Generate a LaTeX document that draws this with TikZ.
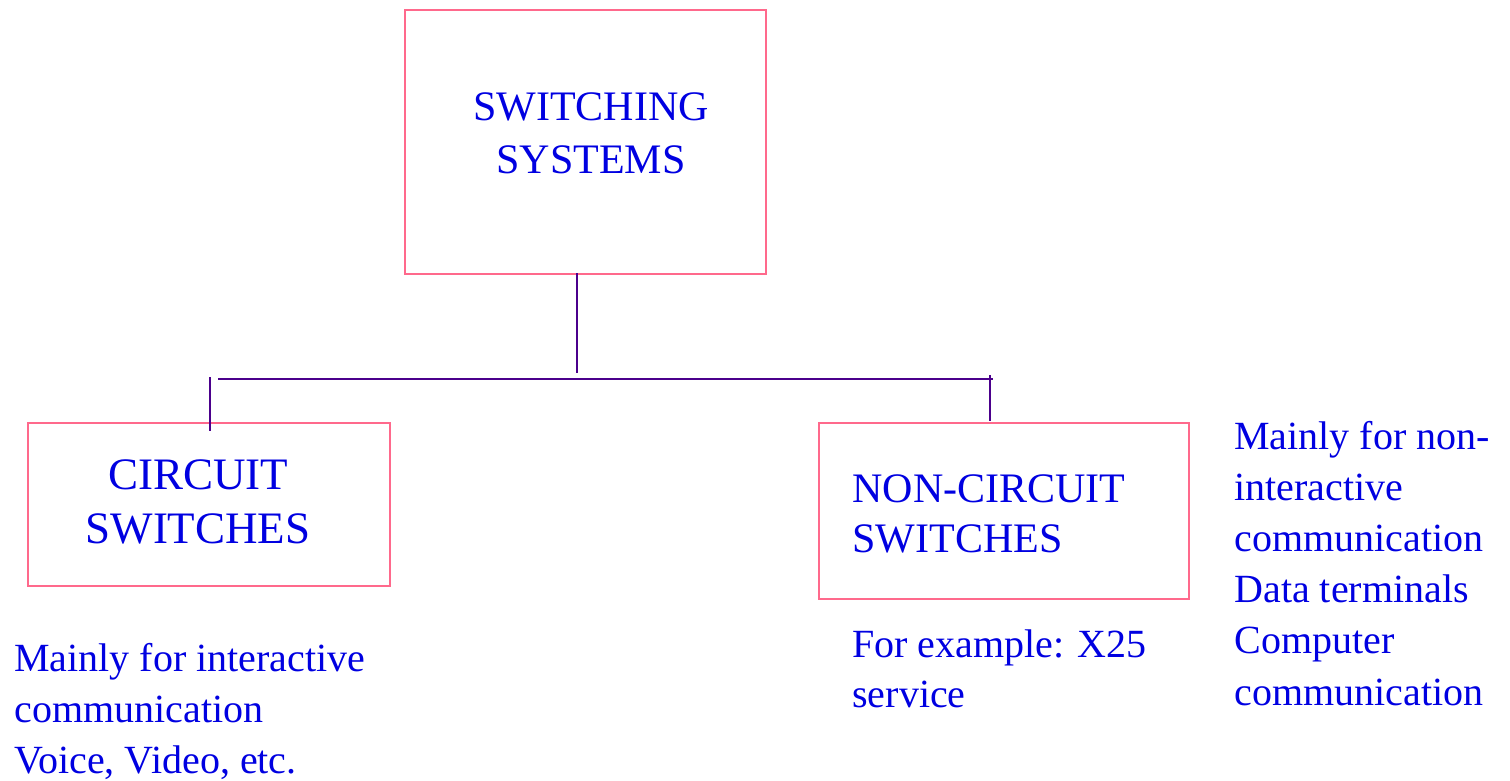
\documentclass[tikz,border=0pt]{standalone}
\usepackage{fontspec}
\setmainfont{Liberation Serif}
\usetikzlibrary{calc}
\definecolor{txtblue}{RGB}{0,0,225}
\definecolor{boxpink}{RGB}{255,105,140}
\definecolor{linepurple}{RGB}{75,0,140}
\begin{document}
\begin{tikzpicture}[x=0.5pt,y=-0.5pt,
  boxst/.style={draw=boxpink,line width=1pt,rectangle,inner sep=0pt},
  txt/.style={text=txtblue,inner sep=0pt,align=left},
  conn/.style={draw=linepurple,line width=1.2pt}]
\useasboundingbox (0,0) rectangle (1510,781);
% boxes
\node[boxst,minimum width=180.5pt,minimum height=132pt,anchor=north west] (top) at (404,9) {};
\node[boxst,minimum width=181pt,minimum height=81.5pt,anchor=north west] (left) at (27,422) {};
\node[boxst,minimum width=185pt,minimum height=88pt,anchor=north west] (right) at (818,422) {};
% box texts (anchor base = baseline of last line)
\node[txt,align=center,anchor=base,font=\fontsize{21}{26}\selectfont] (toptxt) at (591,173) {SWITCHING\\SYSTEMS};
\node[txt,align=center,anchor=base,font=\fontsize{22.5}{27}\selectfont] (lefttxt) at (198,543) {CIRCUIT\\SWITCHES};
\node[txt,anchor=base west,font=\fontsize{21}{25}\selectfont] (righttxt) at (852,552) {NON-CIRCUIT\\SWITCHES};
% descriptions
\node[txt,anchor=base west,font=\fontsize{20}{25.5}\selectfont] (d1) at (14,773) {Mainly for interactive\\communication\\Voice, Video, etc.};
\node[txt,anchor=base west,font=\fontsize{20}{25}\selectfont] (d2) at (852,707) {For example: X25\\service};
\node[txt,anchor=base west,font=\fontsize{20}{25.6}\selectfont] (d3) at (1234,705) {Mainly for non-\\interactive\\communication\\Data terminals\\Computer\\communication};
% connectors
\coordinate (ttop) at (577,273);
\coordinate (tbot) at (577,373);
\coordinate (hl) at (218,379);
\coordinate (hr) at (993,379);
\coordinate (lt1) at (210,377);
\coordinate (lt2) at (210,431);
\coordinate (rt1) at (990,375);
\coordinate (rt2) at (990,421);
\draw[conn] (ttop) -- (tbot);
\draw[conn] (hl) -- (hr);
\draw[conn] (lt1) -- (lt2);
\draw[conn] (rt1) -- (rt2);
\end{tikzpicture}
\end{document}
